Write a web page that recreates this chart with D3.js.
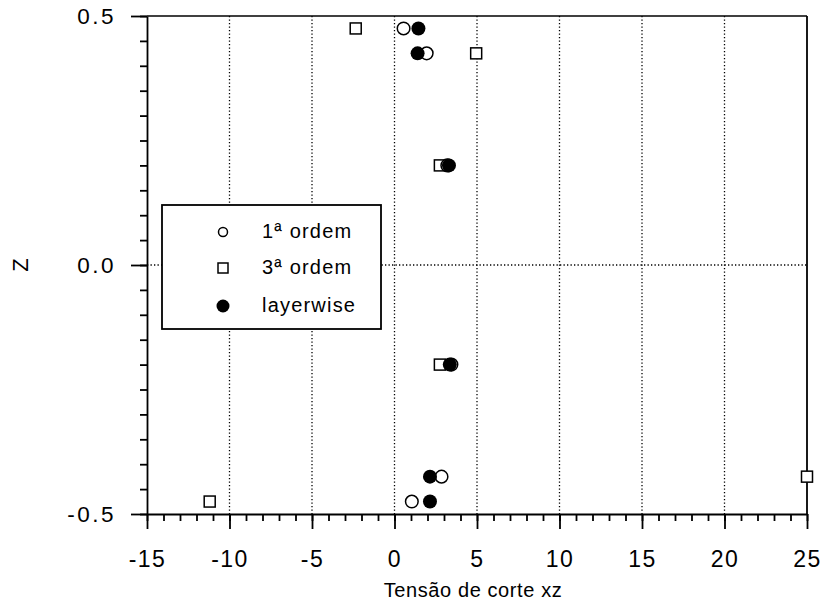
<!DOCTYPE html>
<html>
<head>
<meta charset="utf-8">
<script src="https://cdn.jsdelivr.net/npm/d3@7"></script>
<style>
  body { margin: 0; background: #fff; }
  text { font-family: "Liberation Sans", Arial, Helvetica, sans-serif; fill: #000; }
</style>
</head>
<body>
<div class="chart"></div>
<script>

// data
var zLevels   = [0.475, 0.425, 0.2, -0.2, -0.425, -0.475]
var ordem1    = [0.55, 1.95, 3.2, 3.45, 2.85, 1.05]
var ordem3    = [-2.35, 4.95, 2.75, 2.75, 25, -11.2]
var layerwise = [1.45, 1.4, 3.3, 3.35, 2.15, 2.15]

var xMajor = [-15, -10, -5, 0, 5, 10, 15, 20, 25]
var xGrid  = [-10, -5, 0, 5, 10, 15, 20]
var yMajor = [-0.5, 0.0, 0.5]
var legendLabels = ["1ª ordem", "3ª ordem", "layerwise"]

// plot box
var W = 831, H = 609
var box = {left: 147, right: 807, top: 16, bottom: 514}

// plain hyphen instead of unicode minus
function fmt(spec) {
  var f = d3.format(spec)
  return function(d) { return f(d).replace("\u2212", "-") }
}

var svg = d3.select(".chart")
  .append("svg")
    .attr("width", W)
    .attr("height", H)

var x = d3.scaleLinear()
          .domain([-15, 25])
          .range([box.left, box.right])

var y = d3.scaleLinear()
          .domain([-0.5, 0.5])
          .range([box.bottom, box.top])

// dotted grid
svg.append("g")
  .selectAll("line")
  .data(xGrid)
  .enter()
  .append("line")
    .attr("x1", function(d) { return x(d) })
    .attr("x2", function(d) { return x(d) })
    .attr("y1", box.top)
    .attr("y2", box.bottom)
    .attr("stroke", "#000")
    .attr("stroke-width", 1.3)
    .attr("stroke-dasharray", "1.3,2.2")

svg.append("line")
    .attr("x1", box.left)
    .attr("x2", box.right)
    .attr("y1", y(0))
    .attr("y2", y(0))
    .attr("stroke", "#000")
    .attr("stroke-width", 1.3)
    .attr("stroke-dasharray", "1.3,2.2")

// frame top / right
svg.append("line")
    .attr("x1", box.left).attr("x2", box.right)
    .attr("y1", box.top).attr("y2", box.top)
    .attr("stroke", "#000").attr("stroke-width", 1.5)
svg.append("line")
    .attr("x1", box.right).attr("x2", box.right)
    .attr("y1", box.top).attr("y2", box.bottom)
    .attr("stroke", "#000").attr("stroke-width", 1.8)

// minor ticks
svg.append("g")
    .attr("transform", "translate(0," + box.bottom + ")")
    .call(d3.axisBottom(x).ticks(40).tickSize(7).tickFormat(""))
    .call(function(g) { g.select(".domain").remove() })

svg.append("g")
    .attr("transform", "translate(" + box.left + ",0)")
    .call(d3.axisLeft(y).ticks(20).tickSize(7).tickFormat(""))
    .call(function(g) { g.select(".domain").remove() })

// major ticks + labels
var xAxis = svg.append("g")
    .attr("transform", "translate(0," + box.bottom + ")")
    .call(d3.axisBottom(x)
            .tickValues(xMajor)
            .tickSize(15)
            .tickSizeOuter(0)
            .tickPadding(22)
            .tickFormat(fmt("d")))

xAxis.selectAll("text")
    .style("font-size", "23px")
    .style("letter-spacing", "1.5px")

var yAxis = svg.append("g")
    .attr("transform", "translate(" + box.left + ",0)")
    .call(d3.axisLeft(y)
            .tickValues(yMajor)
            .tickSize(16)
            .tickSizeOuter(0)
            .tickPadding(15)
            .tickFormat(fmt(".1f")))

yAxis.selectAll("text")
    .style("font-size", "22.5px")
    .style("letter-spacing", "2.5px")

svg.selectAll(".domain, .tick line")
    .attr("stroke", "#000")
    .attr("stroke-width", 1.8)

// axis titles
svg.append("text")
    .attr("x", 473)
    .attr("y", 597)
    .style("text-anchor", "middle")
    .style("font-size", "20px")
    .style("letter-spacing", "0.6px")
    .text("Tensão de corte xz")

svg.append("text")
    .attr("transform", "translate(28," + y(0) + ")rotate(-90)")
    .style("text-anchor", "middle")
    .style("font-size", "22px")
    .text("Z")

// points: squares, then open circles, then filled
var sq = 11
svg.append("g")
  .selectAll("rect")
  .data(ordem3)
  .enter()
  .append("rect")
    .attr("x", function(d) { return x(d) - sq / 2 })
    .attr("y", function(d, i) { return y(zLevels[i]) - sq / 2 })
    .attr("width", sq)
    .attr("height", sq)
    .attr("fill", "#fff")
    .attr("stroke", "#000")
    .attr("stroke-width", 1.5)

svg.append("g")
  .selectAll("circle")
  .data(ordem1)
  .enter()
  .append("circle")
    .attr("cx", function(d) { return x(d) })
    .attr("cy", function(d, i) { return y(zLevels[i]) })
    .attr("r", 6.3)
    .attr("fill", "#fff")
    .attr("stroke", "#000")
    .attr("stroke-width", 1.5)

svg.append("g")
  .selectAll("circle")
  .data(layerwise)
  .enter()
  .append("circle")
    .attr("cx", function(d) { return x(d) })
    .attr("cy", function(d, i) { return y(zLevels[i]) })
    .attr("r", 7)
    .attr("fill", "#000")

// legend
var lg = svg.append("g")

lg.append("rect")
    .attr("x", 162)
    .attr("y", 205)
    .attr("width", 219)
    .attr("height", 124)
    .attr("fill", "#fff")
    .attr("stroke", "#000")
    .attr("stroke-width", 1.8)

var rowY = [232, 268, 306]

lg.append("circle")
    .attr("cx", 223).attr("cy", rowY[0]).attr("r", 4.5)
    .attr("fill", "#fff").attr("stroke", "#000").attr("stroke-width", 1.5)
lg.append("rect")
    .attr("x", 218).attr("y", rowY[1] - 5).attr("width", 10).attr("height", 10)
    .attr("fill", "#fff").attr("stroke", "#000").attr("stroke-width", 1.5)
lg.append("circle")
    .attr("cx", 223).attr("cy", rowY[2]).attr("r", 6.5)
    .attr("fill", "#000")

lg.selectAll("text")
  .data(legendLabels)
  .enter()
  .append("text")
    .attr("x", 262)
    .attr("y", function(d, i) { return rowY[i] + 6 })
    .style("font-size", "20px")
    .style("letter-spacing", "1.2px")
    .text(function(d) { return d })

</script>
</body>
</html>
